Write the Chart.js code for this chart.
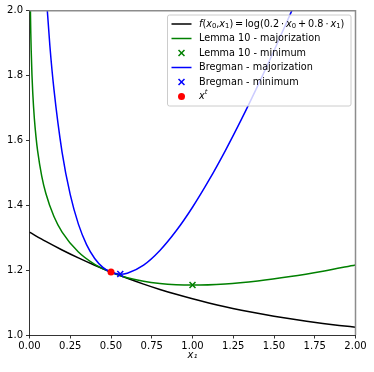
<!DOCTYPE html>
<html>
<head>
<meta charset="utf-8">
<script src="https://cdn.jsdelivr.net/npm/chart.js@4/dist/chart.umd.min.js"></script>
<style>
  html, body { margin: 0; padding: 0; background: #fff; }
</style>
</head>
<body>
<canvas id="chart" width="374" height="372"></canvas>
<script>
// values
const fX = [0, 0.1, 0.2, 0.3, 0.4, 0.5, 0.6, 0.7, 0.8, 0.9, 1.0, 1.1, 1.2, 1.3, 1.4, 1.5, 1.6, 1.7, 1.8, 1.9, 2.0];
const fY = [1.317, 1.2886, 1.2622, 1.2378, 1.2151, 1.1942, 1.1748, 1.157, 1.1405, 1.1254, 1.1116, 1.0989, 1.0872, 1.0766, 1.0669, 1.058, 1.0499, 1.0425, 1.0357, 1.0296, 1.024];

const lemmaX = [0.004, 0.006, 0.008, 0.01, 0.015, 0.02, 0.03, 0.04, 0.05, 0.075, 0.1, 0.15, 0.2, 0.3, 0.4, 0.5, 0.6, 0.7, 0.8, 0.9, 1.0, 1.2, 1.4, 1.6, 1.8, 2.0];
const lemmaY = [2.0677, 1.9862, 1.9286, 1.8839, 1.8031, 1.746, 1.6661, 1.6101, 1.567, 1.4902, 1.4372, 1.3654, 1.3174, 1.2558, 1.2179, 1.193, 1.1764, 1.1654, 1.1587, 1.1551, 1.154, 1.1576, 1.1668, 1.1802, 1.1968, 1.216];

const bregX = [0.1, 0.125, 0.15, 0.2, 0.25, 0.3, 0.35, 0.4, 0.45, 0.5, 0.557, 0.6, 0.7, 0.8, 0.9, 1.0, 1.1, 1.2, 1.3, 1.4, 1.5, 1.6, 1.65];
const bregY = [2.0665, 1.8918, 1.7572, 1.5632, 1.4326, 1.3419, 1.2788, 1.236, 1.2085, 1.1933, 1.1875, 1.1906, 1.2155, 1.2607, 1.3213, 1.394, 1.4766, 1.5673, 1.6649, 1.7683, 1.8766, 1.9894, 2.0473];

const lemmaMin = { x: 1.0, y: 1.154 };
const bregMin = { x: 0.557, y: 1.188 };
const xt = { x: 0.5, y: 1.194 };

const xRange = [0, 2];
const yRange = [1, 2];

// legend texts as [text, style] pieces ('' upright, 'i' italic, 'sub', 'sup')
const TS = "\u2009";
const legendLabels = [
  [["f", "i"], ["(", ""], ["x", "i"], ["0", "sub"], [",", ""], ["x", "i"], ["1", "sub"], [")" + TS + "=" + TS + "log(0.2" + TS + "\u00b7" + TS, ""], ["x", "i"], ["0", "sub"], [TS + "+" + TS + "0.8" + TS + "\u00b7" + TS, ""], ["x", "i"], ["1", "sub"], [")", ""]],
  [["Lemma 10 - majorization", ""]],
  [["Lemma 10 - minimum", ""]],
  [["Bregman - majorization", ""]],
  [["Bregman - minimum", ""]],
  [["x", "i"], ["t", "sup"]]
];

const pts = (xs, ys) => xs.map((x, i) => ({ x, y: ys[i] }));
const FONT = "DejaVu Sans";

Chart.defaults.font.family = FONT;
Chart.defaults.font.size = 10;
Chart.defaults.color = "#000";

const lineDs = (label, data, color, order) => ({
  label, data, order,
  showLine: true,
  borderColor: color,
  backgroundColor: color,
  borderWidth: 1.5,
  pointRadius: 0,
  cubicInterpolationMode: "monotone",
  kind: "line"
});

const markDs = (label, pt, color, style, radius, order) => ({
  label, order,
  data: [pt],
  showLine: false,
  borderColor: color,
  backgroundColor: color,
  pointStyle: style,
  pointRadius: radius,
  pointBorderWidth: style === "circle" ? 0 : 1.5,
  kind: "mark"
});

// top/right spines
const framePlugin = {
  id: "frame",
  afterDatasetsDraw(chart) {
    const { ctx, chartArea: a } = chart;
    ctx.save();
    ctx.strokeStyle = "#8c8c8c";
    ctx.lineWidth = 1.5;
    ctx.beginPath();
    ctx.moveTo(a.left, a.top);
    ctx.lineTo(a.right, a.top);
    ctx.lineTo(a.right, a.bottom);
    ctx.stroke();
    ctx.restore();
  }
};

function richWidth(ctx, parts) {
  let w = 0;
  for (const [t, s] of parts) {
    ctx.font = fontFor(s);
    w += ctx.measureText(t).width;
  }
  return w;
}

function fontFor(s) {
  if (s === "i") return "italic 9.7px '" + FONT + "'";
  if (s === "sub") return "6.8px '" + FONT + "'";
  if (s === "sup") return "italic 6.8px '" + FONT + "'";
  return "9.7px '" + FONT + "'";
}

function drawRich(ctx, parts, x, y, maxW) {
  const w = richWidth(ctx, parts);
  const k = w > maxW ? maxW / w : 1;
  ctx.save();
  ctx.translate(x, y);
  ctx.scale(k, 1);
  let cx = 0;
  for (const [t, s] of parts) {
    const dy = s === "sub" ? 2.5 : s === "sup" ? -4 : 0;
    ctx.font = fontFor(s);
    ctx.fillText(t, cx, dy);
    cx += ctx.measureText(t).width;
  }
  ctx.restore();
}

const legendPlugin = {
  id: "boxLegend",
  afterDraw(chart) {
    const { ctx } = chart;
    const box = { left: 167.5, top: 15, right: 351, bottom: 106 };
    const rowTop = 24, rowGap = 14.5;
    ctx.save();
    ctx.fillStyle = "rgba(255,255,255,0.8)";
    ctx.strokeStyle = "#cccccc";
    ctx.lineWidth = 1;
    ctx.beginPath();
    ctx.roundRect(box.left, box.top, box.right - box.left, box.bottom - box.top, 2);
    ctx.fill();
    ctx.stroke();

    chart.data.datasets.forEach((ds, i) => {
      const y = rowTop + i * rowGap;
      ctx.strokeStyle = ds.borderColor;
      ctx.fillStyle = ds.backgroundColor;
      if (ds.kind === "line") {
        ctx.lineWidth = ds.borderWidth;
        ctx.beginPath();
        ctx.moveTo(171.5, y);
        ctx.lineTo(191.5, y);
        ctx.stroke();
      } else {
        ctx.lineWidth = ds.pointBorderWidth;
        Chart.helpers.drawPoint(ctx, {
          pointStyle: ds.pointStyle,
          radius: ds.pointRadius,
          rotation: 0,
          borderWidth: ds.pointBorderWidth
        }, 181.5, y);
      }
      ctx.fillStyle = "#000";
      ctx.textBaseline = "middle";
      ctx.textAlign = "left";
      drawRich(ctx, legendLabels[i], 199, y, 147);
    });
    ctx.restore();
  }
};

new Chart(document.getElementById("chart"), {
  type: "scatter",
  data: {
    datasets: [
      lineDs("f", pts(fX, fY), "#000000", 6),
      lineDs("Lemma 10 - majorization", pts(lemmaX, lemmaY), "#008000", 5),
      markDs("Lemma 10 - minimum", lemmaMin, "#008000", "crossRot", 4.2, 4),
      lineDs("Bregman - majorization", pts(bregX, bregY), "#0000ff", 3),
      markDs("Bregman - minimum", bregMin, "#0000ff", "crossRot", 4.2, 2),
      markDs("x^t", xt, "#ff0000", "circle", 3.5, 1)
    ]
  },
  options: {
    responsive: false,
    animation: false,
    layout: { padding: { left: 0, top: 10.7, right: 18.5, bottom: 0 } },
    plugins: {
      legend: { display: false },
      tooltip: { enabled: false }
    },
    scales: {
      x: {
        type: "linear",
        min: xRange[0],
        max: xRange[1],
        afterFit: (s) => { s.height = 37; },
        ticks: {
          stepSize: 0.25,
          padding: 2,
          maxRotation: 0,
          callback: (v) => v.toFixed(2)
        },
        grid: { drawOnChartArea: false, drawTicks: true, tickLength: 3.5, tickColor: "#000", tickWidth: 0.8 },
        border: { display: true, color: "#000", width: 0.8 },
        title: {
          display: true,
          text: "x\u2081",
          font: { style: "italic", size: 10 },
          padding: { top: 0, bottom: 11 }
        }
      },
      y: {
        type: "linear",
        min: yRange[0],
        max: yRange[1],
        afterFit: (s) => { s.width = 29.5; },
        ticks: {
          stepSize: 0.2,
          padding: 3,
          callback: (v) => v.toFixed(1)
        },
        grid: { drawOnChartArea: false, drawTicks: true, tickLength: 3.5, tickColor: "#000", tickWidth: 0.8 },
        border: { display: true, color: "#000", width: 0.8 }
      }
    }
  },
  plugins: [framePlugin, legendPlugin]
});
</script>
</body>
</html>
